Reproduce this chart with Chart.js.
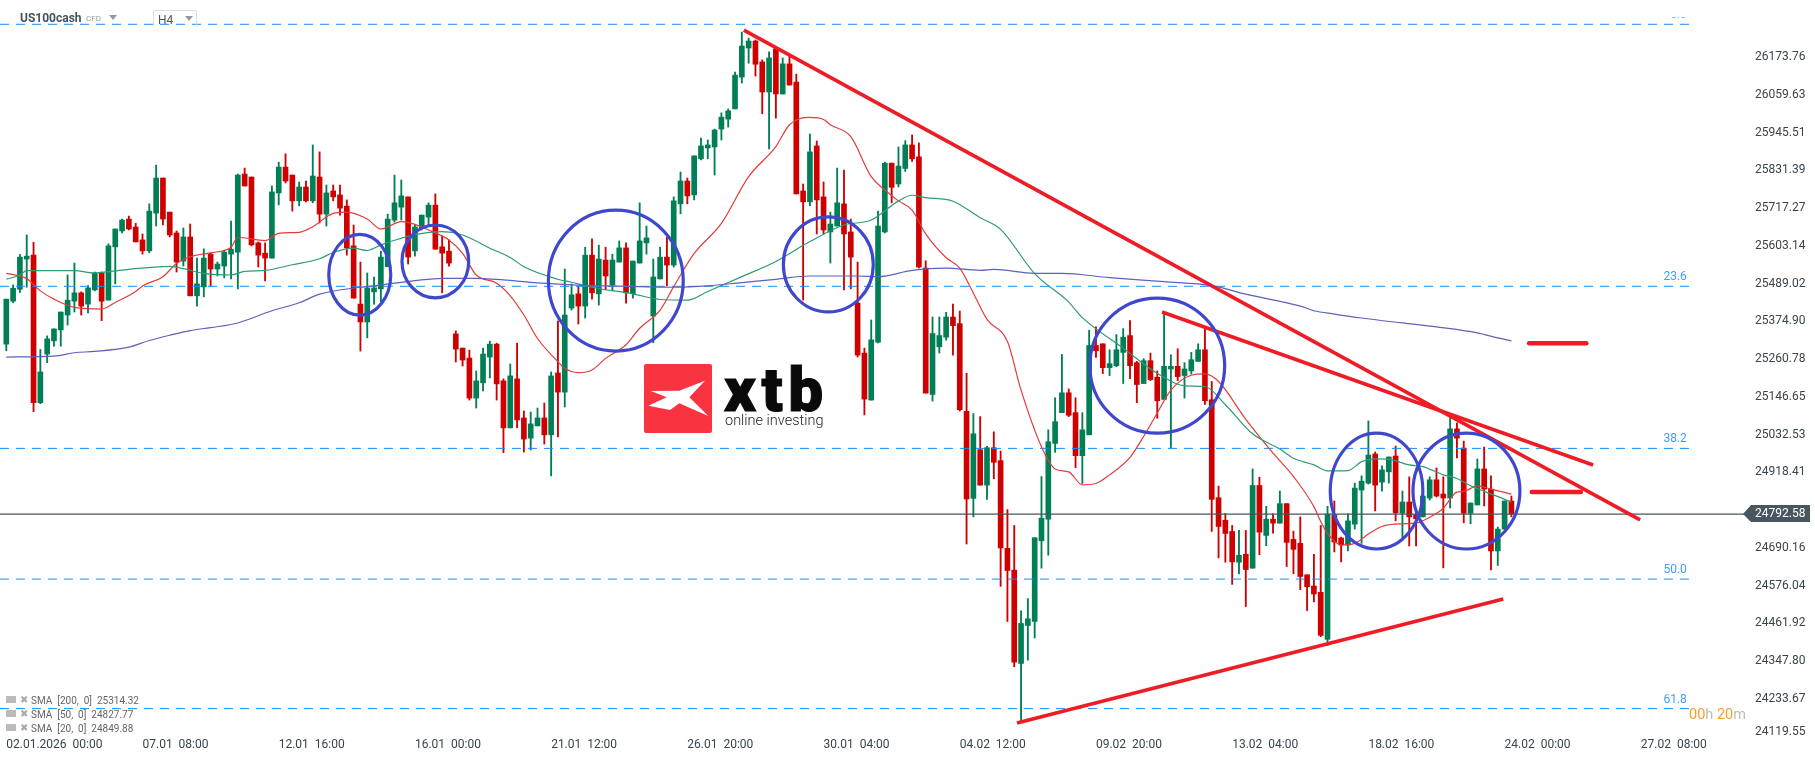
<!DOCTYPE html>
<html>
<head>
<meta charset="utf-8">
<title>US100cash H4</title>
<script src="https://cdn.jsdelivr.net/npm/chart.js@4/dist/chart.umd.min.js"></script>
<style>
  html, body { margin: 0; padding: 0; background: #fff; }
  #wrap { position: relative; width: 1815px; height: 761px; overflow: hidden; font-family: Roboto, sans-serif; }
  #priceChart { position: absolute; left: 0; top: 0; }
  .abs { position: absolute; white-space: pre; line-height: 1; }
  .sma { color: #666; font-size: 10px; left: 31px; }
  .sma-x { color: #aaa; font-size: 10px; left: 20px; font-family: "DejaVu Sans"; }
  .sma-ic { position: absolute; left: 6px; width: 10px; height: 7px; background: #bbb; border-bottom: 1px solid #fff; }
  .tri { position: absolute; width: 0; height: 0; border-left: 4px solid transparent; border-right: 4px solid transparent; border-top: 5px solid #999; }
</style>
</head>
<body>
<div id="wrap">
  <canvas id="priceChart" width="1815" height="761"></canvas>

  <div class="abs" style="left:20px;top:12px;font-size:12px;font-weight:700;color:#44525c">US100cash</div>
  <div class="abs" style="left:86px;top:15px;font-size:8px;color:#999">CFD</div>
  <div class="tri" style="left:109px;top:15px"></div>
  <div class="abs" style="left:153px;top:10px;width:42px;height:15px;border:1px solid #ddd;border-bottom:none;border-radius:2px 2px 0 0"></div>
  <div class="abs" style="left:158px;top:14px;font-size:12px;color:#555">H4</div>
  <div class="tri" style="left:185px;top:16px"></div>

  <svg class="abs" style="left:644px;top:364px" width="68" height="69" viewBox="644 364 68 69">
    <rect x="644" y="364" width="68" height="69" rx="2" fill="#f93340"></rect>
    <polygon fill="#fff" points="705,380.7 679.3,390.7 650.7,391 666.7,397.3 648.3,405.7 670,410 679.3,403.3 708.3,416 689.3,397.3"></polygon>
  </svg>
  <div class="abs" style="left:724px;top:359px;font-size:62px;font-weight:900;color:#0a0a0a;letter-spacing:5.5px;-webkit-text-stroke:1px #0a0a0a">xtb</div>
  <div class="abs" style="left:725px;top:414px;font-size:14.5px;font-weight:300;color:#222">online investing</div>

  <div class="sma-ic" style="top:696px"></div>
  <div class="abs sma-x" style="top:695px">&#10006;</div>
  <div class="abs sma" style="top:696px">SMA  [200,  0]  25314.32</div>
  <div class="sma-ic" style="top:710px"></div>
  <div class="abs sma-x" style="top:709px">&#10006;</div>
  <div class="abs sma" style="top:710px">SMA  [50,  0]  24827.77</div>
  <div class="sma-ic" style="top:724px"></div>
  <div class="abs sma-x" style="top:723px">&#10006;</div>
  <div class="abs sma" style="top:724px">SMA  [20,  0]  24849.88</div>

  <div class="abs" style="left:1689px;top:708px;font-size:14.5px;color:#bbb"><span style="color:#ff9d1e">00</span>h <span style="color:#ff9d1e">20</span>m</div>
</div>

<script>
// ====================================================================
// CANDLES (one value per 4h bar)
// ====================================================================

const opens = [
  25306,25436,25472,25563,25575,25129,25276,25316,25349,25394,
  25436,25461,25427,25470,25521,25439,25600,25648,25684,25660,
  25621,25588,25702,25808,25705,25642,25557,25630,25452,25479,
  25578,25533,25542,25578,25584,25820,25811,25612,25581,25566,
  25763,25841,25817,25739,25781,25739,25811,25699,25769,25757,
  25723,25603,25427,25373,25464,25473,25540,25681,25720,25751,
  25588,25657,25690,25726,25600,25587,25337,25294,25264,25143,
  25189,25267,25306,25195,25053,25201,25083,25022,25059,25083,
  25032,25219,25161,25415,25458,25421,25575,25458,25560,25485,
  25554,25597,25458,25551,25612,25391,25503,25569,25545,25730,
  25799,25757,25866,25899,25902,25956,25986,26017,26113,26201,
  26222,26159,26068,26198,26062,26153,26098,25769,25736,25905,
  25751,25645,25663,25730,25645,25430,25279,25137,25312,25645,
  25853,25790,25837,25908,25872,25536,25154,25298,25327,25388,
  25368,25103,24840,24987,24880,24993,24954,24689,24623,24341,
  24456,24468,24712,24777,25006,25099,25159,25099,24969,25032,
  25302,25307,25235,25241,25281,25332,25250,25187,25256,25206,
  25139,25231,25239,25211,25225,25254,25289,25138,24842,24774,
  24740,24647,24671,24629,24879,24728,24777,24765,24824,24716,
  24704,24609,24575,24556,24414,24790,24720,24699,24762,24865,
  24886,24974,24889,24920,24968,24795,24829,24790,24784,24841,
  24896,24853,24841,25050,24992,24795,24820,24929,24868,24681,24747,24832
];
const highs = [
  25442,25485,25577,25636,25614,25290,25331,25352,25403,25515,
  25551,25464,25483,25524,25524,25609,25654,25684,25693,25671,
  25639,25730,25847,25808,25705,25648,25657,25669,25566,25594,
  25581,25554,25590,25678,25820,25838,25811,25615,25612,25784,
  25856,25881,25817,25796,25799,25908,25887,25787,25787,25787,
  25742,25666,25554,25521,25509,25587,25699,25817,25802,25751,
  25666,25696,25733,25760,25633,25621,25346,25294,25288,25225,
  25294,25315,25309,25201,25246,25309,25104,25101,25113,25128,
  25222,25376,25533,25488,25482,25599,25624,25605,25599,25578,
  25618,25612,25557,25733,25663,25563,25599,25630,25751,25826,
  25808,25875,25929,25923,25956,26005,26017,26128,26249,26231,
  26225,26165,26189,26201,26171,26177,26122,25790,25941,25920,
  25796,25705,25838,25832,25684,25554,25294,25379,25708,25856,
  25853,25902,25921,25938,25914,25558,25388,25388,25402,25427,
  25406,25218,25096,25087,24997,25041,24983,24806,24758,24500,
  24537,24721,24906,25047,25144,25275,25171,25144,25099,25348,
  25358,25307,25289,25335,25353,25377,25254,25262,25279,25225,
  25402,25274,25292,25250,25281,25307,25354,25193,24877,24794,
  24758,24743,24743,24929,24904,24816,24793,24862,24824,24741,
  24784,24609,24671,24758,24816,24832,24723,24793,24886,24908,
  25074,24980,24938,24965,24998,24862,24905,24808,24865,24905,
  24932,24905,25086,25068,25013,24826,24959,24995,24908,24753,24832,24847
];
const lows = [
  25286,25431,25462,25478,25102,25126,25250,25300,25300,25364,
  25403,25394,25400,25467,25377,25439,25488,25642,25651,25615,
  25578,25582,25663,25666,25630,25524,25542,25452,25421,25449,
  25482,25512,25506,25503,25473,25784,25603,25539,25497,25566,
  25727,25793,25708,25724,25736,25733,25672,25663,25739,25696,
  25575,25445,25285,25325,25427,25433,25540,25675,25681,25548,
  25572,25651,25663,25593,25461,25542,25252,25240,25137,25113,
  25165,25204,25137,24978,25053,25053,24980,24986,25059,25004,
  24908,25026,25116,25409,25367,25385,25442,25424,25470,25467,
  25554,25430,25445,25551,25578,25310,25503,25482,25539,25700,
  25730,25742,25863,25866,25817,25923,25962,26017,26095,26155,
  26116,26002,25896,25989,26062,26089,25760,25439,25724,25639,
  25639,25551,25663,25470,25473,25267,25092,25137,25310,25642,
  25733,25781,25828,25858,25536,25158,25134,25279,25318,25273,
  25104,24702,24784,24880,24837,24899,24574,24468,24331,24164,
  24351,24418,24629,24668,24979,25099,25087,24933,24885,25032,
  25266,25217,25211,25238,25187,25202,25129,25187,25196,25082,
  25139,24992,25196,25143,25216,25254,25124,24740,24660,24647,
  24580,24612,24513,24629,24670,24697,24735,24765,24634,24612,
  24564,24501,24527,24422,24395,24678,24648,24681,24747,24704,
  24883,24802,24862,24886,24772,24720,24696,24696,24784,24835,
  24844,24630,24811,24962,24766,24763,24820,24817,24624,24637,24747,24784
];
const closes = [
  25442,25475,25569,25572,25129,25222,25322,25352,25403,25439,
  25461,25421,25476,25521,25436,25603,25654,25681,25654,25615,
  25588,25708,25808,25684,25636,25554,25630,25452,25488,25566,
  25533,25548,25584,25593,25817,25784,25606,25575,25566,25766,
  25841,25799,25739,25781,25739,25814,25699,25763,25751,25717,
  25597,25445,25373,25476,25476,25569,25684,25733,25754,25569,
  25660,25696,25726,25593,25581,25551,25291,25258,25143,25195,
  25276,25306,25186,25053,25210,25077,25019,25065,25083,25032,
  25210,25161,25394,25455,25421,25575,25461,25563,25512,25560,
  25597,25461,25557,25618,25627,25509,25569,25545,25739,25799,
  25754,25875,25905,25908,25953,25992,26011,26119,26207,26222,
  26152,26068,26171,26062,26153,26089,25760,25736,25887,25742,
  25651,25669,25733,25639,25569,25273,25140,25319,25663,25853,
  25780,25844,25908,25866,25539,25158,25338,25332,25388,25362,
  25108,24838,25035,24880,24993,24949,24690,24622,24345,24462,
  24476,24721,24780,25011,25072,25159,25091,24969,25047,25302,
  25286,25235,25247,25289,25327,25241,25184,25256,25199,25135,
  25239,25239,25208,25231,25259,25289,25135,24837,24755,24734,
  24648,24668,24625,24879,24738,24777,24765,24824,24707,24686,
  24604,24573,24551,24426,24792,24708,24699,24772,24871,24892,
  24971,24880,24926,24965,24796,24829,24784,24778,24847,24896,
  24847,24841,25050,25022,24795,24826,24929,24868,24681,24747,24832,24792.58
];

// ====================================================================
// MOVING AVERAGES (at the bars below)
// ====================================================================

const sma200Bars = [0,7,10,13,18,21,24,27,30,34,39,43,46,52,55,60,64,69,73,78,83,88,93,98,103,108,113,118,125,128,133,138,143,145,151,155,162,170,177,182,190,192,195,199,205,210,216,219,221];
const sma200 = [25267,25270,25280,25284,25297,25317,25333,25347,25356,25370,25407,25431,25457,25478,25485,25498,25505,25505,25500,25491,25485,25482,25480,25478,25482,25492,25502,25512,25512,25510,25529,25536,25529,25532,25520,25520,25507,25495,25483,25457,25421,25407,25397,25385,25370,25358,25340,25325,25316];

const sma50Bars = [0,2,3,10,13,15,19,24,26,29,33,35,38,42,46,48,51,53,55,57,60,64,67,71,74,76,81,83,86,92,96,100,103,108,113,118,123,127,131,133,135,139,143,146,151,156,158,164,169,173,176,179,183,187,189,192,194,197,199,201,203,206,208,211,213,215,217,220,221];
const sma50 = [25502,25515,25528,25528,25521,25525,25534,25541,25534,25520,25515,25526,25529,25546,25564,25583,25596,25589,25606,25620,25637,25646,25636,25596,25568,25540,25502,25493,25478,25458,25441,25439,25465,25510,25556,25616,25666,25681,25739,25756,25749,25738,25688,25653,25519,25433,25386,25294,25218,25180,25178,25123,25035,24989,24961,24941,24923,24924,24951,24959,24958,24941,24936,24911,24900,24878,24861,24837,24828];

const sma20Bars = [0,3,5,7,10,14,16,19,20,23,25,27,30,33,34,38,40,43,45,48,50,53,55,58,60,62,65,67,69,72,74,76,78,81,82,84,86,88,91,93,96,98,101,105,109,113,115,118,120,121,124,127,129,131,133,135,138,140,142,144,147,149,152,154,156,158,160,162,165,167,169,171,174,176,178,182,186,189,192,193,194,196,198,200,202,205,207,209,211,213,214,216,218,221];
const sma20 = [25520,25504,25467,25442,25417,25412,25432,25465,25482,25510,25550,25570,25582,25599,25629,25619,25641,25644,25661,25701,25705,25684,25654,25676,25668,25651,25621,25580,25515,25490,25452,25394,25323,25253,25233,25220,25228,25263,25304,25354,25409,25480,25580,25671,25812,25903,25969,25991,25985,25969,25933,25812,25772,25739,25711,25639,25567,25536,25460,25381,25314,25167,24996,24929,24920,24881,24885,24911,24964,25027,25098,25167,25212,25216,25193,25079,24977,24906,24815,24770,24734,24699,24704,24732,24755,24763,24765,24783,24810,24859,24861,24878,24868,24853];

// ====================================================================
// LEVELS AND DRAWINGS ON THE CHART
// ====================================================================

const lastPrice = 24792.58;
const fibNames = ['0.0', '23.6', '38.2', '50.0', '61.8'];
const fibLevels = [26272.6, 25480.8, 24991, 24596, 24204.6];
const fibEndBar = 247.2;

// [startBar, startPrice, endBar, endPrice]
const trendLines = [
  [108.3, 26255, 239.9, 24775],
  [169.7, 25403, 233.0, 24941],
  [148.4, 24161, 219.8, 24536]
];
const targetLines = [
  [223.6, 25309, 232.0, 25309],
  [224.0, 24859, 231.2, 24859]
];

// circled zones: centre bar / centre price, half width in bars, half height in points
const zoneBars = [51.9, 63.0, 89.5, 120.7, 169.0, 201.2, 214.4];
const zonePrices = [25516, 25556, 25498, 25547, 25241, 24862, 24862];
const zoneHalfBars = [4.55, 4.9, 9.9, 6.6, 9.9, 6.8, 7.85];
const zoneHalfPrices = [122, 110, 213, 143.5, 204, 175, 175];

// ====================================================================
// AXES
// ====================================================================

const xTickBars = [0,20,40,60,80,100,120,140,160,180,200,220,240];
const xTickLabels = ['02.01.2026  00:00','07.01  08:00','12.01  16:00','16.01  00:00','21.01  12:00','26.01  20:00','30.01  04:00','04.02  12:00','09.02  20:00','13.02  04:00','18.02  16:00','24.02  00:00','27.02  08:00'];
const priceTicks = [26173.76,26059.63,25945.51,25831.39,25717.27,25603.14,25489.02,25374.90,25260.78,25146.65,25032.53,24918.41,24690.16,24576.04,24461.92,24347.80,24233.67,24119.55];

const BAR_MIN = -0.925;
const BAR_MAX = 255.3;
const PRICE_MAX = 26346;
const PRICE_MIN = 24115.8;
// the platform pushes its lowest price label up so it stays clear of the time axis
const LOWEST_LABEL_AT = 24134;

const GREEN = '#007f56';
const RED = '#cf0000';

function pointsFrom(bars, values) {
  return bars.map((bar, i) => ({ x: bar, y: values[i] }));
}

function lineDataset(data, color, width, extra) {
  return Object.assign({
    type: 'line',
    data: data,
    borderColor: color,
    borderWidth: width,
    pointRadius: 0,
    tension: 0,
    fill: false
  }, extra || {});
}

const smoothed = { cubicInterpolationMode: 'monotone' };
const candleColors = opens.map((open, i) => (closes[i] >= open ? GREEN : RED));

const chartOverlays = {
  id: 'chartOverlays',
  afterDatasetsDraw(chart) {
    const { ctx, scales: { x, y } } = chart;

    // circled zones
    ctx.save();
    ctx.strokeStyle = '#3f48cc';
    ctx.lineWidth = 3.2;
    zoneBars.forEach((bar, i) => {
      const cx = x.getPixelForValue(bar);
      const cy = y.getPixelForValue(zonePrices[i]);
      const rx = Math.abs(x.getPixelForValue(bar + zoneHalfBars[i]) - cx);
      const ry = Math.abs(y.getPixelForValue(zonePrices[i] + zoneHalfPrices[i]) - cy);
      ctx.beginPath();
      ctx.ellipse(cx, cy, rx, ry, 0, 0, Math.PI * 2);
      ctx.stroke();
    });
    ctx.restore();

    // fibonacci labels, the top one is cut by the chart header
    ctx.save();
    ctx.font = '12px Roboto';
    ctx.fillStyle = '#3f9dff';
    ctx.textAlign = 'right';
    ctx.textBaseline = 'middle';
    const labelX = x.getPixelForValue(fibEndBar) - 3;
    fibLevels.forEach((level, i) => {
      const py = y.getPixelForValue(level) - 9;
      ctx.save();
      if (i === 0) {
        ctx.beginPath();
        ctx.rect(labelX - 30, py + 2, 40, 12);
        ctx.clip();
      }
      ctx.fillText(fibNames[i], labelX, py);
      ctx.restore();
    });
    ctx.restore();

    // last price tag
    const tagY = y.getPixelForValue(lastPrice);
    const left = x.right - 2;
    ctx.save();
    ctx.fillStyle = '#47565f';
    ctx.beginPath();
    ctx.moveTo(left, tagY);
    ctx.lineTo(left + 8, tagY - 9);
    ctx.lineTo(1810, tagY - 9);
    ctx.lineTo(1810, tagY + 8);
    ctx.lineTo(left + 8, tagY + 8);
    ctx.closePath();
    ctx.fill();
    ctx.fillStyle = '#fff';
    ctx.font = '12px Roboto';
    ctx.textAlign = 'left';
    ctx.textBaseline = 'middle';
    ctx.fillText(lastPrice.toFixed(2), 1755, tagY);
    ctx.restore();
  }
};

new Chart(document.getElementById('priceChart').getContext('2d'), {
  type: 'bar',
  data: {
    datasets: [
      ...trendLines.map(t => lineDataset([{ x: t[0], y: t[1] }, { x: t[2], y: t[3] }], '#ee1c25', 3.6)),
      ...targetLines.map(t => lineDataset([{ x: t[0], y: t[1] }, { x: t[2], y: t[3] }], '#ee1c25', 4.5, { borderCapStyle: 'round' })),
      lineDataset(pointsFrom(sma200Bars, sma200), '#5c62bb', 1.2, smoothed),
      lineDataset(pointsFrom(sma50Bars, sma50), '#2f9a78', 1.2, smoothed),
      lineDataset(pointsFrom(sma20Bars, sma20), '#e23c3c', 1.2, smoothed),
      ...fibLevels.map(level => lineDataset([{ x: BAR_MIN, y: level }, { x: fibEndBar, y: level }], '#0f8fff', 1, { borderDash: [9, 7] })),
      lineDataset([{ x: BAR_MIN, y: lastPrice }, { x: BAR_MAX, y: lastPrice }], '#47565f', 1.2),
      {
        label: 'body',
        data: opens.map((open, i) => ({ x: i, y: [open, closes[i]] })),
        backgroundColor: candleColors,
        barThickness: 5,
        grouped: false,
        borderWidth: 0
      },
      {
        label: 'wick',
        data: highs.map((high, i) => ({ x: i, y: [lows[i], high] })),
        backgroundColor: candleColors,
        barThickness: 1.2,
        grouped: false,
        borderWidth: 0
      }
    ]
  },
  options: {
    responsive: false,
    animation: false,
    layout: { padding: 0 },
    events: [],
    plugins: { legend: { display: false }, tooltip: { enabled: false } },
    scales: {
      x: {
        type: 'linear',
        offset: false,
        min: BAR_MIN,
        max: BAR_MAX,
        grid: { display: false, drawTicks: false },
        border: { display: false },
        afterBuildTicks: scale => { scale.ticks = xTickBars.map(value => ({ value })); },
        afterFit: scale => {
          scale.height = 23;
          scale.paddingLeft = 0;
          scale.paddingRight = 0;
        },
        ticks: {
          autoSkip: false,
          maxRotation: 0,
          minRotation: 0,
          align: 'start',
          padding: 0,
          color: '#3a444c',
          font: { family: 'Roboto', size: 12 },
          callback: value => xTickLabels[xTickBars.indexOf(value)]
        }
      },
      y: {
        position: 'right',
        min: PRICE_MIN,
        max: PRICE_MAX,
        grid: { display: false, drawTicks: false },
        border: { display: false },
        afterBuildTicks: scale => { scale.ticks = priceTicks.map(value => ({ value: Math.max(value, LOWEST_LABEL_AT) })); },
        afterFit: scale => {
          scale.width = 70;
          scale.paddingTop = 0;
          scale.paddingBottom = 0;
        },
        ticks: {
          autoSkip: false,
          padding: 10,
          color: '#3a444c',
          font: { family: 'Roboto', size: 12 },
          callback: (value, i) => priceTicks[i].toFixed(2)
        }
      }
    }
  },
  plugins: [chartOverlays]
});
</script>
</body>
</html>
